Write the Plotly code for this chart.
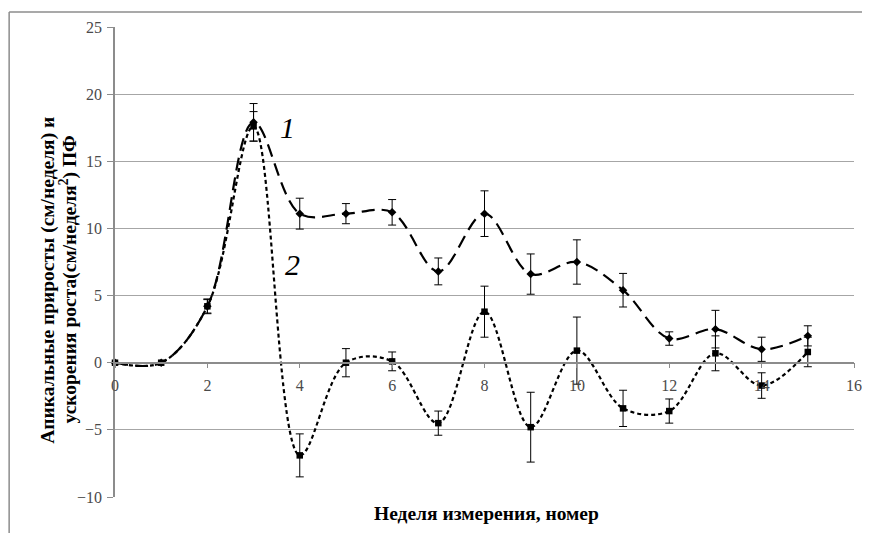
import plotly.graph_objects as go

weeks = list(range(16))
growth = [0, 0, 4.2, 17.9, 11.1, 11.1, 11.2, 6.8, 11.1, 6.6, 7.5, 5.4, 1.8, 2.5, 1.0, 2.0]
growth_err = [0, 0, 0.55, 1.4, 1.15, 0.75, 0.95, 1.0, 1.7, 1.5, 1.65, 1.25, 0.5, 1.4, 0.9, 0.75]
accel = [0, 0, 4.2, 17.6, -6.9, 0, 0.1, -4.5, 3.8, -4.8, 0.9, -3.4, -3.6, 0.7, -1.7, 0.8]
accel_err = [0, 0, 0.5, 1.1, 1.6, 1.05, 0.7, 0.9, 1.9, 2.6, 2.5, 1.35, 0.9, 1.3, 0.95, 1.1]
x_ticks = [0, 2, 4, 6, 8, 10, 12, 14, 16]
y_ticks = [-10, -5, 0, 5, 10, 15, 20, 25]
curve_labels = ["1", "2"]
y_title_lines = ["Апикальные приросты (см/неделя) и",
                 "ускорения роста(см/неделя<sup>2</sup>) ПФ"]
x_title = "Неделя измерения, номер"
y_range = [-10, 25]
x_range = [0, 16]

# page body has an 8px margin, so the figure is drawn 8px right/down
OFF = 8
W, H = 870 - OFF, 533 - OFF
ml, mr, mt, mb = 115 - OFF, 8, 27 - OFF, 36
PL, PR, PT, PB = 115, 862, 27, 497  # plot area in window pixels


def px(xp):
    return (xp - PL) / (PR - PL)


def py(yp):
    return (PB - yp) / (PB - PT)


fig = go.Figure()
fig.add_trace(go.Scatter(
    x=weeks, y=accel, mode="lines+markers", line_shape="spline",
    line=dict(color="black", width=2.2, dash="4px,3px"),
    marker=dict(symbol="square", size=6.5, color="black"),
    error_y=dict(type="data", array=accel_err, color="black", thickness=1, width=4),
    cliponaxis=False, showlegend=False))
fig.add_trace(go.Scatter(
    x=weeks, y=growth, mode="lines+markers", line_shape="spline",
    line=dict(color="black", width=2.2, dash="13px,7px"),
    marker=dict(symbol="diamond", size=6.5, color="black"),
    error_y=dict(type="data", array=growth_err, color="black", thickness=1, width=4),
    cliponaxis=False, showlegend=False))

serif = "Times New Roman, Liberation Serif, serif"
zero_pos = (0 - y_range[0]) / (y_range[1] - y_range[0])
tick_col = "#4a4a4a"

fig.update_layout(
    width=W, height=H,
    margin=dict(l=ml, r=mr, t=mt, b=mb),
    paper_bgcolor="white", plot_bgcolor="white",
    font=dict(family=serif, color=tick_col, size=16),
    xaxis=dict(range=x_range, tickvals=x_ticks, showgrid=False, zeroline=False,
               showline=True, linecolor="#8c8c8c", linewidth=1.5,
               ticks="outside", ticklen=5, tickcolor="#8c8c8c",
               ticklabelstandoff=3,
               anchor="free", position=zero_pos,
               tickfont=dict(family=serif, size=16, color=tick_col)),
    yaxis=dict(range=y_range, tickvals=y_ticks, showgrid=True, gridcolor="#a6a6a6",
               gridwidth=1.3, zeroline=False, showline=True, linecolor="#8c8c8c",
               linewidth=1.5, ticks="outside", ticklen=6, tickcolor="#8c8c8c",
               ticklabelstandoff=2,
               tickfont=dict(family=serif, size=16, color=tick_col)),
)

fig.add_annotation(x=3.73, y=17.5, text=f"<i>{curve_labels[0]}</i>", showarrow=False,
                   font=dict(family=serif, size=30, color="black"))
fig.add_annotation(x=3.85, y=7.3, text=f"<i>{curve_labels[1]}</i>", showarrow=False,
                   font=dict(family=serif, size=30, color="black"))

# axis titles
fig.add_annotation(xref="paper", yref="paper", x=px(491), y=py(513),
                   xanchor="center", yanchor="middle",
                   text=f"<b>{x_title}</b>", showarrow=False,
                   font=dict(family=serif, size=19.5, color="black"))
for line_text, xp in zip(y_title_lines, [47, 67]):
    fig.add_annotation(xref="paper", yref="paper", x=px(xp), y=py(280),
                       xanchor="center", yanchor="middle", textangle=-90,
                       text=f"<b>{line_text}</b>", showarrow=False,
                       font=dict(family=serif, size=19.5, color="black"))

# chart-area frame (top and left edges visible)
fig.add_shape(type="line", xref="paper", yref="paper", x0=px(8), x1=1.2, y0=py(12), y1=py(12),
              line=dict(color="#8c8c8c", width=1.5))
fig.add_shape(type="line", xref="paper", yref="paper", x0=px(8), x1=px(8), y0=-0.2, y1=py(12),
              line=dict(color="#8c8c8c", width=1.5))

fig.write_html("out.html")
